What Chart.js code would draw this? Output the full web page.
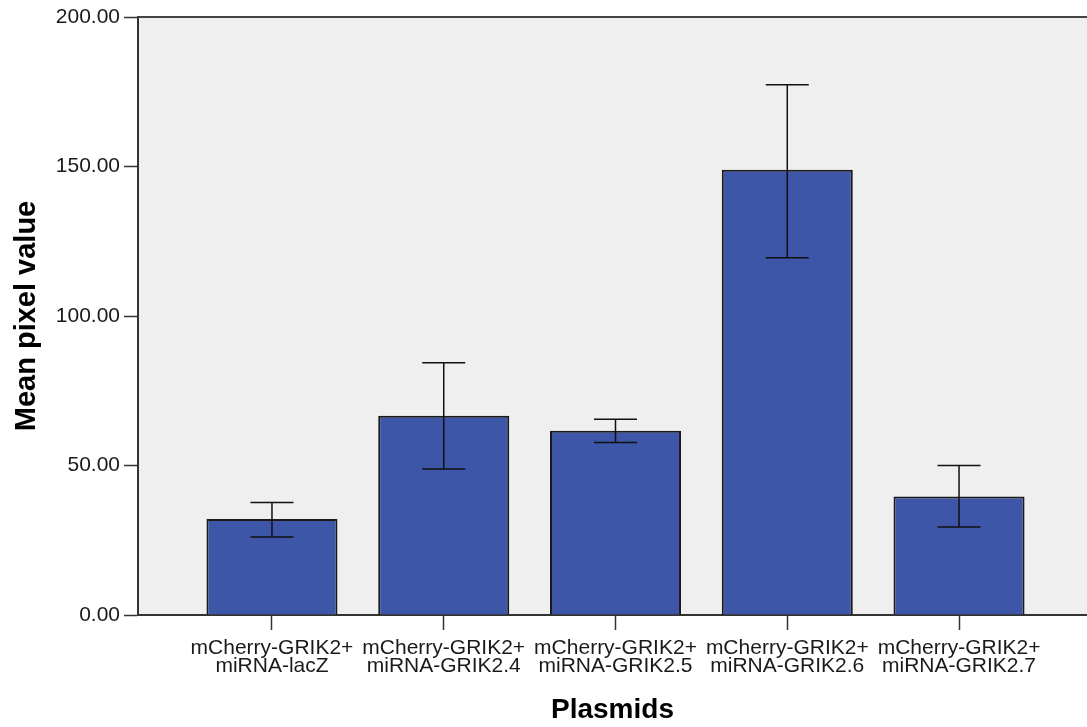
<!DOCTYPE html>
<html>
<head>
<meta charset="utf-8">
<script src="https://cdn.jsdelivr.net/npm/chart.js"></script>
<style>
  body { margin: 0; background: #ffffff; }
  #wrap { width: 1087px; height: 727px; }
</style>
</head>
<body>
<div id="wrap"><canvas id="myBarChart" width="1087" height="727"></canvas></div>
<script>
// data
const categories = [
  ["mCherry-GRIK2+", "miRNA-lacZ"],
  ["mCherry-GRIK2+", "miRNA-GRIK2.4"],
  ["mCherry-GRIK2+", "miRNA-GRIK2.5"],
  ["mCherry-GRIK2+", "miRNA-GRIK2.6"],
  ["mCherry-GRIK2+", "miRNA-GRIK2.7"]
];
const meanValues = [32.1, 66.6, 61.6, 148.9, 39.6];
const errorLow = [26.1, 48.8, 57.7, 119.5, 29.4];
const errorHigh = [37.6, 84.4, 65.5, 177.3, 50.0];
const yTicks = [0, 50, 100, 150, 200];

const FONT = "'Liberation Sans', Arial, sans-serif";

// grey plot background + top frame line
const plotFrame = {
  id: "plotFrame",
  beforeDraw(chart) {
    const { ctx, chartArea: a } = chart;
    ctx.save();
    ctx.fillStyle = "#efefef";
    ctx.fillRect(a.left, a.top, a.right - a.left, a.bottom - a.top);
    ctx.restore();
  },
  afterDraw(chart) {
    const { ctx, chartArea: a } = chart;
    ctx.save();
    ctx.strokeStyle = "#444";
    ctx.lineWidth = 2;
    ctx.beginPath();
    ctx.moveTo(a.left, a.top);
    ctx.lineTo(a.right, a.top);
    ctx.stroke();
    ctx.restore();
  }
};

// error bars
const errorBars = {
  id: "errorBars",
  afterDatasetsDraw(chart) {
    const { ctx, scales } = chart;
    const xs = scales.x, ys = scales.y;
    ctx.save();
    ctx.strokeStyle = "#111";
    ctx.lineWidth = 1.5;
    for (let i = 0; i < meanValues.length; i++) {
      const x = xs.getPixelForValue(i);
      const yLo = ys.getPixelForValue(errorLow[i]);
      const yHi = ys.getPixelForValue(errorHigh[i]);
      ctx.beginPath();
      ctx.moveTo(x, yLo);
      ctx.lineTo(x, yHi);
      ctx.moveTo(x - 21.5, yHi);
      ctx.lineTo(x + 21.5, yHi);
      ctx.moveTo(x - 21.5, yLo);
      ctx.lineTo(x + 21.5, yLo);
      ctx.stroke();
    }
    ctx.restore();
  }
};

var ctx = document.getElementById("myBarChart").getContext("2d");
var barChart = new Chart(ctx, {
  type: "bar",
  data: {
    datasets: [
      {
        data: meanValues.map((v, i) => ({ x: i, y: v })),
        backgroundColor: "#3d56a8",
        borderColor: "#1a1a1a",
        borderWidth: 2,
        barPercentage: 0.763,
        categoryPercentage: 1
      }
    ]
  },
  options: {
    responsive: false,
    animation: false,
    layout: { padding: { top: 17, right: 0, left: 0, bottom: 0 } },
    plugins: {
      legend: { display: false },
      tooltip: { enabled: false }
    },
    scales: {
      x: {
        type: "linear",
        offset: false,
        min: -0.78,
        max: 4.745,
        afterBuildTicks: (scale) => {
          scale.ticks = categories.map((c, i) => ({ value: i }));
        },
        afterFit: (scale) => { scale.height = 112; },
        grid: {
          offset: false,
          drawOnChartArea: false,
          drawTicks: true,
          tickLength: 15,
          tickColor: "#333",
          tickWidth: 1.5
        },
        border: { display: true, color: "#333", width: 2 },
        ticks: {
          autoSkip: false,
          maxRotation: 0,
          padding: 9,
          color: "#1a1a1a",
          font: { family: FONT, size: 21, lineHeight: 0.86 },
          callback: (v) => categories[v] || ""
        },
        title: {
          display: true,
          text: "Plasmids",
          color: "#000",
          font: { family: FONT, size: 28, weight: "bold", lineHeight: 1 },
          padding: { top: 0, bottom: 3 }
        }
      },
      y: {
        min: 0,
        max: 200,
        afterBuildTicks: (scale) => {
          scale.ticks = yTicks.map((v) => ({ value: v }));
        },
        afterFit: (scale) => { scale.width = 138; },
        grid: {
          drawOnChartArea: false,
          drawTicks: true,
          tickLength: 14,
          tickColor: "#333",
          tickWidth: 1.5
        },
        border: { display: true, color: "#333", width: 2 },
        ticks: {
          padding: 4,
          color: "#1a1a1a",
          font: { family: FONT, size: 21 },
          callback: (v) => Number(v).toFixed(2)
        },
        title: {
          display: true,
          text: "Mean pixel value",
          color: "#000",
          font: { family: FONT, size: 29, weight: "bold", lineHeight: 1.2 },
          padding: { top: 10, bottom: 0 }
        }
      }
    }
  },
  plugins: [plotFrame, errorBars]
});
</script>
</body>
</html>
